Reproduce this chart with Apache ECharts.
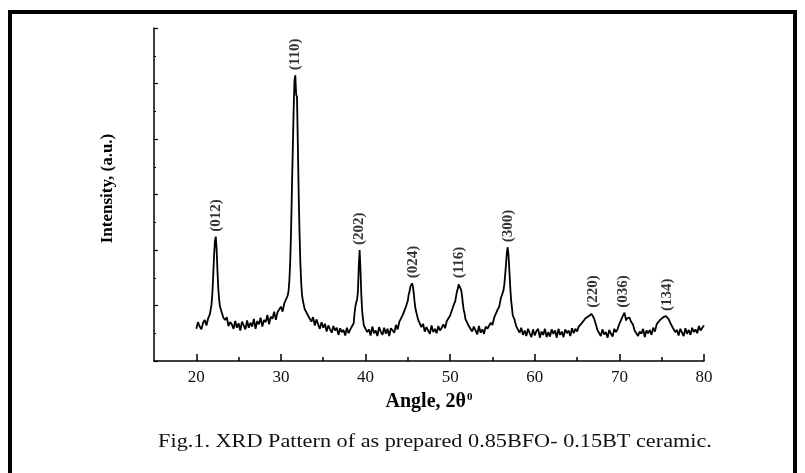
<!DOCTYPE html>
<html>
<head>
<meta charset="utf-8">
<title>XRD pattern 0.85BFO-0.15BT</title>
<script src="https://cdn.jsdelivr.net/npm/echarts@6/dist/echarts.min.js"></script>
<style>
  html, body { margin: 0; padding: 0; background: #fff; }
  #chart { width: 805px; height: 473px; }
</style>
</head>
<body>
<div id="chart"></div>
<script>
// measured pattern, [2theta, intensity a.u.]
const pattern = [
  [20.0, 0.58], [20.2, 0.70], [20.4, 0.62], [20.6, 0.57], [20.8, 0.69], [21.0, 0.74], [21.2, 0.64], [21.4, 0.77],
  [21.6, 0.84], [21.8, 1.02], [21.9, 1.22], [22.0, 1.55], [22.1, 1.90], [22.2, 2.16], [22.3, 2.24], [22.4, 2.02],
  [22.5, 1.62], [22.6, 1.30], [22.7, 1.10], [22.8, 0.98], [23.0, 0.88], [23.2, 0.78], [23.4, 0.74],
  [23.6, 0.79], [23.8, 0.63], [24.0, 0.70], [24.2, 0.66], [24.4, 0.58], [24.6, 0.72], [24.8, 0.60], [25.0, 0.68],
  [25.2, 0.55], [25.4, 0.71], [25.6, 0.64], [25.8, 0.57], [26.0, 0.73], [26.2, 0.60], [26.4, 0.69], [26.6, 0.62],
  [26.8, 0.76], [27.0, 0.58], [27.2, 0.72], [27.4, 0.66], [27.6, 0.78], [27.8, 0.62], [28.0, 0.74], [28.2, 0.70],
  [28.4, 0.83], [28.6, 0.66], [28.8, 0.80], [29.0, 0.76], [29.2, 0.89], [29.4, 0.74], [29.6, 0.88], [29.8, 0.85],
  [30.0, 0.98], [30.2, 0.89], [30.4, 1.04], [30.6, 1.03], [30.8, 1.18], [30.9, 1.26], [31.0, 1.45], [31.1, 1.80],
  [31.2, 2.35], [31.3, 3.10], [31.4, 3.80], [31.5, 4.50], [31.6, 5.05], [31.7, 5.15], [31.8, 4.80], [31.9, 4.76],
  [32.0, 3.90], [32.1, 3.00], [32.2, 2.30], [32.3, 1.75], [32.4, 1.40], [32.5, 1.18], [32.6, 1.08], [32.8, 0.94],
  [33.0, 0.93], [33.2, 0.82], [33.4, 0.83], [33.6, 0.71], [33.8, 0.79], [34.0, 0.64], [34.2, 0.75], [34.4, 0.66],
  [34.6, 0.58], [34.8, 0.70], [35.0, 0.60], [35.2, 0.67], [35.4, 0.53], [35.6, 0.64], [35.8, 0.57], [36.0, 0.51],
  [36.2, 0.63], [36.4, 0.55], [36.6, 0.60], [36.8, 0.47], [37.0, 0.59], [37.2, 0.52], [37.4, 0.56], [37.6, 0.46],
  [37.8, 0.60], [38.0, 0.50], [38.2, 0.57], [38.4, 0.55], [38.6, 0.68], [38.7, 0.86], [38.8, 0.98], [38.9, 1.06],
  [39.0, 1.10], [39.1, 1.25], [39.2, 1.70], [39.3, 2.00], [39.4, 1.65], [39.5, 1.20], [39.6, 0.90], [39.7, 0.76],
  [39.8, 0.64], [40.0, 0.61], [40.2, 0.52], [40.4, 0.57], [40.6, 0.46], [40.8, 0.62], [41.0, 0.50], [41.2, 0.55],
  [41.4, 0.45], [41.6, 0.61], [41.8, 0.53], [42.0, 0.47], [42.2, 0.60], [42.4, 0.49], [42.6, 0.58], [42.8, 0.45],
  [43.0, 0.59], [43.2, 0.55], [43.4, 0.51], [43.6, 0.65], [43.8, 0.57], [44.0, 0.71], [44.2, 0.69], [44.4, 0.83],
  [44.6, 0.86], [44.8, 0.99], [45.0, 1.09], [45.1, 1.20], [45.2, 1.25], [45.3, 1.34], [45.4, 1.37], [45.5, 1.40],
  [45.6, 1.34], [45.7, 1.22], [45.8, 1.06], [45.9, 0.94], [46.0, 0.88], [46.2, 0.75], [46.4, 0.74], [46.6, 0.61],
  [46.8, 0.67], [47.0, 0.53], [47.2, 0.61], [47.4, 0.55], [47.6, 0.49], [47.8, 0.64], [48.0, 0.52], [48.2, 0.58],
  [48.4, 0.50], [48.6, 0.63], [48.8, 0.55], [49.0, 0.60], [49.2, 0.66], [49.4, 0.59], [49.6, 0.72], [49.8, 0.69],
  [50.0, 0.82], [50.2, 0.84], [50.4, 1.00], [50.6, 1.08], [50.8, 1.25], [50.9, 1.30], [51.0, 1.38], [51.1, 1.40],
  [51.2, 1.36], [51.3, 1.28], [51.4, 1.18], [51.5, 1.04], [51.6, 0.92], [51.7, 0.86], [51.8, 0.76], [52.0, 0.73],
  [52.2, 0.63], [52.4, 0.66], [52.6, 0.53], [52.8, 0.62], [53.0, 0.55], [53.2, 0.48], [53.4, 0.63], [53.6, 0.51],
  [53.8, 0.57], [54.0, 0.49], [54.2, 0.62], [54.4, 0.58], [54.6, 0.60], [54.8, 0.69], [55.0, 0.65], [55.2, 0.78],
  [55.4, 0.78], [55.6, 0.92], [55.8, 0.98], [56.0, 1.14], [56.1, 1.18], [56.2, 1.21], [56.3, 1.27], [56.4, 1.38],
  [56.5, 1.55], [56.6, 1.74], [56.7, 1.95], [56.8, 2.05], [56.9, 1.90], [57.0, 1.62], [57.1, 1.34], [57.2, 1.10],
  [57.3, 0.96], [57.4, 0.82], [57.6, 0.75], [57.8, 0.63], [58.0, 0.64], [58.2, 0.51], [58.4, 0.60], [58.6, 0.47],
  [58.8, 0.55], [59.0, 0.45], [59.2, 0.58], [59.4, 0.50], [59.6, 0.43], [59.8, 0.57], [60.0, 0.46], [60.2, 0.54],
  [60.4, 0.58], [60.6, 0.42], [60.8, 0.53], [61.0, 0.47], [61.2, 0.58], [61.4, 0.43], [61.6, 0.52], [61.8, 0.44],
  [62.0, 0.57], [62.2, 0.49], [62.4, 0.55], [62.6, 0.42], [62.8, 0.58], [63.0, 0.47], [63.2, 0.53], [63.4, 0.43],
  [63.6, 0.57], [63.8, 0.50], [64.0, 0.55], [64.2, 0.45], [64.4, 0.59], [64.6, 0.50], [64.8, 0.58], [65.0, 0.53],
  [65.2, 0.62], [65.4, 0.60], [65.6, 0.69], [65.8, 0.69], [66.0, 0.77], [66.2, 0.76], [66.4, 0.81], [66.6, 0.80],
  [66.7, 0.85], [66.8, 0.87], [66.9, 0.84], [67.0, 0.77], [67.2, 0.67], [67.4, 0.56], [67.6, 0.55], [67.8, 0.45],
  [68.0, 0.57], [68.2, 0.48], [68.4, 0.52], [68.6, 0.42], [68.8, 0.56], [69.0, 0.49], [69.2, 0.44], [69.4, 0.58],
  [69.6, 0.52], [69.8, 0.58], [70.0, 0.67], [70.2, 0.68], [70.4, 0.81], [70.5, 0.84], [70.6, 0.87], [70.7, 0.80],
  [70.8, 0.73], [70.9, 0.77], [71.0, 0.76], [71.1, 0.79], [71.2, 0.78], [71.3, 0.76], [71.4, 0.70], [71.6, 0.66],
  [71.8, 0.55], [72.0, 0.56], [72.2, 0.45], [72.4, 0.53], [72.6, 0.49], [72.8, 0.58], [73.0, 0.43], [73.2, 0.55],
  [73.4, 0.50], [73.6, 0.56], [73.8, 0.47], [74.0, 0.60], [74.2, 0.53], [74.4, 0.66], [74.6, 0.63], [74.8, 0.74],
  [75.0, 0.72], [75.2, 0.79], [75.4, 0.79], [75.5, 0.81], [75.6, 0.80], [75.8, 0.76], [76.0, 0.74], [76.2, 0.63],
  [76.4, 0.63], [76.6, 0.52], [76.8, 0.56], [77.0, 0.46], [77.2, 0.58], [77.4, 0.51], [77.6, 0.45], [77.8, 0.59],
  [78.0, 0.49], [78.2, 0.56], [78.4, 0.47], [78.6, 0.60], [78.8, 0.52], [79.0, 0.57], [79.2, 0.50], [79.4, 0.63],
  [79.6, 0.55], [79.8, 0.60], [80.0, 0.64]
]

const peakLabels = ['(012)', '(110)', '(202)', '(024)', '(116)', '(300)', '(220)', '(036)', '(134)']
const peakAngles = [22.3, 31.7, 39.3, 45.6, 51.1, 56.8, 66.9, 70.5, 75.6]
const peakHeights = [2.24, 5.15, 2.00, 1.40, 1.40, 2.05, 0.87, 0.87, 0.81]

const majorTicks = [20, 30, 40, 50, 60, 70, 80]
const minorTicks = [25, 35, 45, 55, 65, 75]

const xName = 'Angle, 2θ'
const yName = 'Intensity, (a.u.)'
const caption = 'Fig.1. XRD Pattern of as prepared 0.85BFO- 0.15BT ceramic.'

const serif = '"Liberation Serif", "DejaVu Serif", serif'
const chart = echarts.init(document.getElementById('chart'))

chart.setOption({
  animation: false,
  backgroundColor: '#fff',
  textStyle: { fontFamily: serif, color: '#000' },
  grid: { left: 154, right: 101, top: 28, bottom: 112 },
  graphic: [
    {
      type: 'rect',
      shape: { x: 10, y: 12, width: 785, height: 520 },
      style: { fill: 'none', stroke: '#000', lineWidth: 4 }
    },
    {
      type: 'text',
      x: 435,
      y: 442,
      scaleX: 1.17,
      style: {
        text: caption,
        align: 'center',
        verticalAlign: 'middle',
        font: '19px ' + serif,
        fill: '#111'
      }
    }
  ],
  xAxis: [
    {
      type: 'value',
      min: 15,
      max: 80,
      position: 'bottom',
      name: '{b|' + xName + '}{s|0}',
      nameLocation: 'middle',
      nameGap: 31,
      nameTextStyle: {
        rich: {
          b: { fontFamily: serif, fontSize: 20, fontWeight: 'bold', color: '#000' },
          s: { fontFamily: serif, fontSize: 11, fontWeight: 'bold', color: '#000', padding: [0, 0, 9, 1] }
        }
      },
      splitLine: { show: false },
      axisLine: { lineStyle: { color: '#000', width: 1.5 } },
      axisTick: { inside: true, length: 7, customValues: majorTicks, lineStyle: { color: '#000', width: 1.5 } },
      axisLabel: { customValues: majorTicks, margin: 8, fontSize: 17, fontFamily: serif, color: '#111' }
    },
    {
      type: 'value',
      min: 15,
      max: 80,
      position: 'bottom',
      splitLine: { show: false },
      axisLine: { show: false },
      axisTick: { inside: true, length: 4, customValues: minorTicks, lineStyle: { color: '#000', width: 1.5 } },
      axisLabel: { show: false }
    }
  ],
  yAxis: {
    type: 'value',
    min: 0,
    max: 6,
    interval: 1,
    name: yName,
    nameLocation: 'middle',
    nameGap: 38,
    nameTextStyle: { fontFamily: serif, fontSize: 17, fontWeight: 'bold', color: '#000', padding: [0, 0, 0, 12] },
    splitLine: { show: false },
    axisLine: { show: true, lineStyle: { color: '#000', width: 1.5 } },
    axisTick: { show: true, inside: true, length: 4, lineStyle: { color: '#000', width: 1.2 } },
    minorTick: { show: true, splitNumber: 2, length: 2, lineStyle: { color: '#000', width: 1.2 } },
    axisLabel: { show: false }
  },
  series: [
    {
      type: 'line',
      data: pattern,
      symbol: 'none',
      lineStyle: { color: '#000', width: 1.8 }
    },
    {
      type: 'scatter',
      symbolSize: 0,
      data: peakAngles.map((a, i) => ({ name: peakLabels[i], value: [a, peakHeights[i]] })),
      label: {
        show: true,
        position: 'top',
        distance: 5,
        rotate: 90,
        align: 'left',
        verticalAlign: 'middle',
        formatter: (p) => p.name,
        fontFamily: serif,
        fontSize: 15,
        fontWeight: 'bold',
        color: '#000'
      }
    }
  ]
})
</script>
</body>
</html>
